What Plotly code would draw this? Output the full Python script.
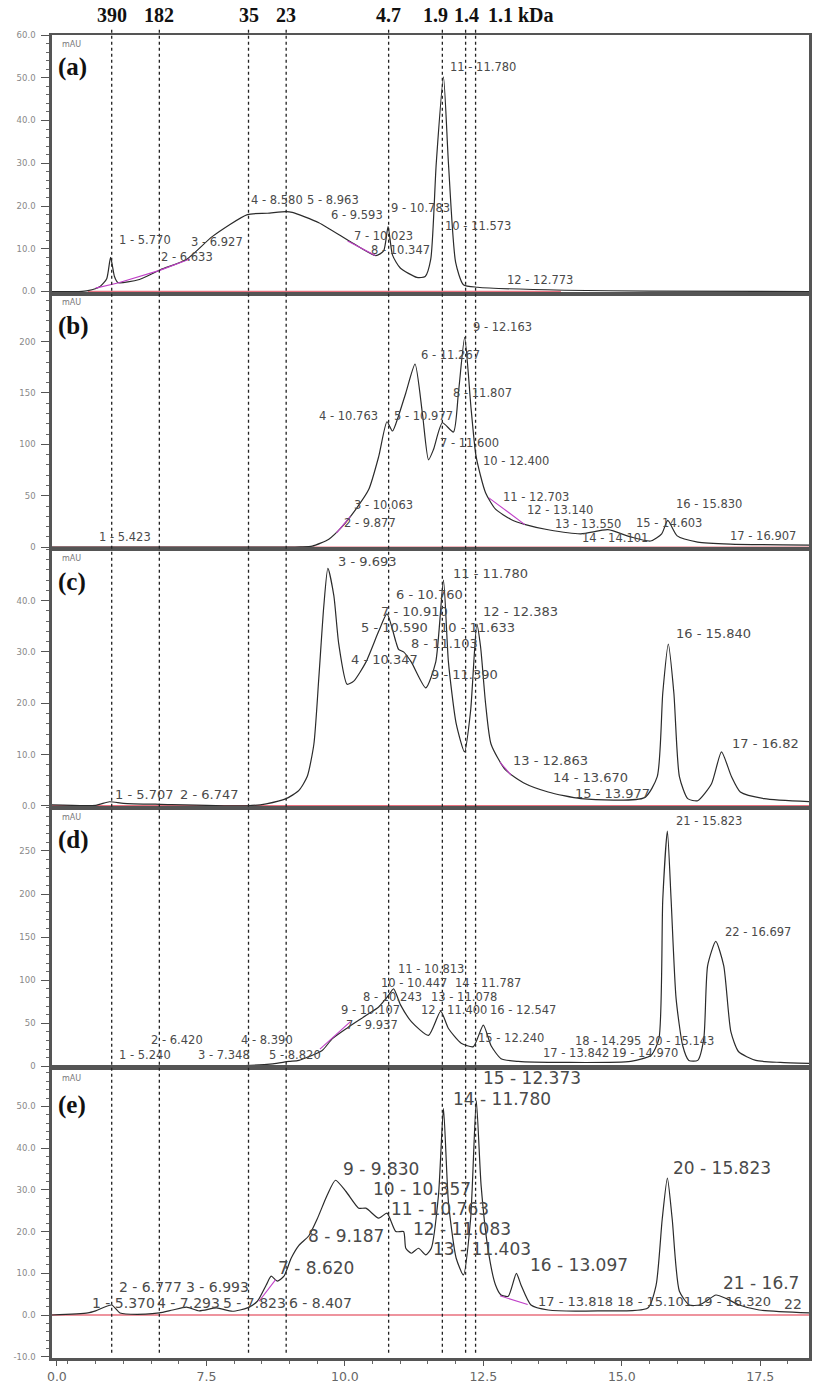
import plotly.graph_objects as go
from plotly.subplots import make_subplots

# ---------------- data (retention time in min, absorbance in mAU) ----------------
a_time = [4.71, 5.20, 5.36, 5.58, 5.70, 5.77, 5.84, 5.90, 6.29, 6.67, 7.14, 7.61, 8.24, 8.60, 8.94,
          9.05, 9.53, 10.13, 10.56, 10.70, 10.78, 10.86, 11.00, 11.30, 11.45, 11.55, 11.65, 11.78,
          11.87, 12.00, 12.14, 12.40, 13.97, 15.50, 18.38]
a_mau = [0.0, 0.0, 0.2, 1.2, 3.0, 8.0, 3.5, 2.1, 2.8, 5.1, 7.5, 12.9, 18.0, 18.3, 18.7,
         18.5, 16.1, 11.4, 8.4, 9.5, 15.2, 8.5, 5.5, 3.3, 3.5, 7.5, 30.0, 50.2,
         30.0, 6.8, 1.6, 1.0, 0.3, 0.1, 0.0]

b_time = [4.71, 8.99, 9.20, 9.41, 9.71, 9.95, 10.20, 10.43, 10.61, 10.76, 10.86, 10.97, 11.10,
          11.267, 11.40, 11.51, 11.60, 11.76, 11.96, 12.05, 12.163, 12.28, 12.37, 12.54, 12.72,
          13.00, 13.26, 13.67, 14.26, 14.75, 15.16, 15.52, 15.72, 15.83, 16.00, 16.37, 16.96, 18.40]
b_mau = [0, 0, 0.3, 1, 7.8, 20, 37, 56, 88, 122, 113, 128, 150,
         178, 130, 85, 95, 121, 112, 150, 204, 134, 88, 53, 37,
         27, 22, 17, 13, 17, 10, 6, 13, 26, 11, 5, 3, 2]

c_time = [4.71, 5.50, 5.75, 6.00, 6.67, 8.24, 8.58, 8.94, 9.17, 9.32, 9.44, 9.53, 9.62, 9.693,
          9.80, 9.89, 10.04, 10.16, 10.38, 10.61, 10.76, 10.92, 10.97, 11.06, 11.20, 11.46, 11.64,
          11.78, 11.87, 12.01, 12.16, 12.27, 12.383, 12.45, 12.54, 12.64, 12.90, 13.26, 13.67,
          14.26, 15.41, 15.64, 15.74, 15.84, 15.94, 16.04, 16.19, 16.37, 16.62, 16.80, 16.98,
          17.14, 17.57, 18.40]
c_mau = [0.2, 0.1, 0.8, 0.5, 0.3, 0.0, 0.4, 1.4, 3.0, 5.7, 12, 25, 39, 46.3,
         41, 31.5, 23.7, 24.3, 28, 34, 37.4, 32, 30.5, 30, 28, 23, 28,
         44, 28, 16, 10.5, 18.5, 35.4, 31, 20, 12, 7, 4.3, 2.7,
         1.4, 1.6, 5.7, 22, 31.5, 22, 5.7, 1.4, 1.0, 4.3, 10.5, 5.7,
         2.7, 1.4, 0.8]

d_time = [4.71, 5.50, 6.50, 7.30, 8.20, 8.70, 8.99, 9.17, 9.59, 9.77, 10.05, 10.38, 10.61, 10.76,
          10.88, 11.00, 11.20, 11.51, 11.73, 11.87, 12.10, 12.32, 12.50, 12.64, 12.82, 13.13,
          13.97, 15.16, 15.53, 15.67, 15.74, 15.823, 15.89, 15.98, 16.10, 16.21, 16.37, 16.48,
          16.55, 16.697, 16.84, 16.97, 17.11, 17.42, 17.86, 18.40]
d_mau = [0, 0.5, 0.5, 1.0, 1.0, 3, 5.8, 7, 18.5, 32, 45, 59, 69, 80,
         90, 72, 52, 36, 64, 44, 27, 23, 48, 24, 9, 5.8,
         4.6, 5.8, 13, 32, 194, 273, 194, 79, 24, 7, 7, 32,
         117, 145, 117, 40, 17, 7, 4.6, 3.5]

e_time = [4.71, 5.36, 5.50, 5.79, 5.94, 6.40, 6.65, 6.89, 7.14, 7.37, 7.68, 7.97, 8.24, 8.42,
          8.58, 8.67, 8.78, 8.90, 9.03, 9.17, 9.35, 9.50, 9.68, 9.83, 10.02, 10.25, 10.38, 10.61,
          10.76, 10.92, 11.06, 11.10, 11.20, 11.33, 11.46, 11.56, 11.69, 11.78, 11.87, 12.01,
          12.14, 12.27, 12.373, 12.46, 12.59, 12.72, 12.82, 12.95, 13.097, 13.18, 13.36, 13.67,
          14.57, 15.47, 15.62, 15.73, 15.823, 15.91, 16.04, 16.22, 16.40, 16.52, 16.70, 16.88,
          17.12, 17.48, 18.40]
e_mau = [0, 0.5, 1.0, 2.4, 0.5, 0.2, 0.5, 1.2, 1.9, 1.0, 1.7, 0.9, 1.7, 3.3,
         7.2, 9.3, 8.1, 9.3, 13.6, 16.7, 19, 23, 28.7, 32.3, 29.6, 25.6, 25.6, 23.2,
         24.4, 20, 20, 16, 14.8, 16, 14.4, 16, 28.7, 49.5, 27, 13.6,
         9.6, 23, 51.4, 31, 15.3, 7.2, 4.8, 4.5, 10, 7.2, 2.4, 1.2,
         1.0, 1.7, 7.2, 23, 32.8, 23, 5.7, 2.4, 2.4, 3.3, 4.8, 4.0,
         2.4, 1.2, 0.5]

# baselines (integration baseline, red) and tangent skims (magenta)
a_base_t, a_base_v = [5.36, 13.90], [0, 0]
b_base_t, b_base_v = [4.71, 18.40], [0, 0]
c_base_t, c_base_v = [4.71, 18.40], [0, 0]
d_base_t, d_base_v = [4.71, 18.40], [0, 0]
e_base_t, e_base_v = [4.71, 18.40], [0, 0]

a_skim_t = [5.50, 5.90, 6.67, 7.20, None, 10.05, 10.55]
a_skim_v = [0.8, 2.0, 5.0, 7.6, None, 11.8, 8.4]
b_skim_t = [9.85, 10.10, None, 12.60, 13.25]
b_skim_v = [14, 30, None, 48, 22]
c_skim_t = [12.80, 13.00]
c_skim_v = [8.5, 6.0]
d_skim_t = [9.55, 10.10]
d_skim_v = [20, 52]
e_skim_t = [8.45, 8.75, None, 12.80, 13.30]
e_skim_v = [3.3, 8.5, None, 4.6, 2.5]

# molecular weight markers (kDa) and their elution times
mw_labels = ["390", "182", "35", "23", "4.7", "1.9", "1.4", "1.1 kDa"]
mw_times = [5.79, 6.65, 8.26, 8.94, 10.79, 11.76, 12.18, 12.36]

# peak labels: text, time, mAU
a_lab = ["1 - 5.770", "2 - 6.633", "3 - 6.927", "4 - 8.580", "5 - 8.963", "6 - 9.593", "7 - 10.023",
         "8 - 10.347", "9 - 10.783", "10 - 11.573", "11 - 11.780", "12 - 12.773"]
a_lab_t = [5.88, 6.65, 7.19, 8.27, 9.28, 9.71, 10.13, 10.43, 10.79, 11.78, 11.87, 12.90]
a_lab_v = [12.1, 8.0, 11.5, 21.5, 21.5, 17.8, 12.9, 9.6, 19.6, 15.4, 52.6, 2.8]

b_lab = ["1 - 5.423", "2 - 9.877", "3 - 10.063", "4 - 10.763", "5 - 10.977", "6 - 11.267", "7 - 11.600",
         "8 - 11.807", "9 - 12.163", "10 - 12.400", "11 - 12.703", "12 - 13.140", "13 - 13.550",
         "14 - 14.101", "15 - 14.603", "16 - 15.830", "17 - 16.907"]
b_lab_t = [5.52, 9.95, 10.13, 9.50, 10.85, 11.33, 11.69, 11.91, 12.27, 12.46, 12.81, 13.26, 13.76,
           14.24, 15.22, 15.95, 16.91]
b_lab_v = [9.7, 23.3, 40.8, 128, 128, 187, 101, 150, 214, 83.5, 48.5, 36, 22.3, 8.7, 24, 42, 10.7]

c_lab = ["1 - 5.707", "2 - 6.747", "3 - 9.693", "4 - 10.347", "5 - 10.590", "6 - 10.760", "7 - 10.910",
         "8 - 11.103", "9 - 11.390", "10 - 11.633", "11 - 11.780", "12 - 12.383", "13 - 12.863",
         "14 - 13.670", "15 - 13.977", "16 - 15.840", "17 - 16.82"]
c_lab_t = [5.82, 6.98, 9.84, 10.07, 10.25, 10.88, 10.61, 11.15, 11.51, 11.69, 11.92, 12.45, 13.00,
           13.72, 14.12, 15.95, 16.96]
c_lab_v = [2.3, 2.3, 47.7, 28.6, 34.8, 41.1, 37.9, 31.7, 25.5, 34.8, 45.3, 37.9, 8.8, 5.6, 2.5, 33.5, 12.1]

d_lab = ["1 - 5.240", "2 - 6.420", "3 - 7.348", "4 - 8.390", "5 - 8.820", "7 - 9.937", "9 - 10.107",
         "8 - 10.243", "10 - 10.447", "11 - 10.813", "13 - 11.078", "14 - 11.787", "12 - 11.400",
         "16 - 12.547", "15 - 12.240", "17 - 13.842", "18 - 14.295", "19 - 14.970", "20 - 15.143",
         "21 - 15.823", "22 - 16.697"]
d_lab_t = [5.88, 6.47, 7.32, 8.09, 8.60, 9.98, 9.89, 10.29, 10.61, 10.92, 11.51, 11.96, 11.33,
           12.59, 12.36, 13.54, 14.12, 14.78, 15.43, 15.95, 16.82]
d_lab_v = [12.7, 31, 12.7, 31, 12.7, 48.6, 65, 81, 97, 113, 81, 97, 65, 65, 32.4, 15, 30, 15, 30, 285, 156]

e_lab = ["1 - 5.370", "2 - 6.777", "3 - 6.993", "4 - 7.293", "5 - 7.823", "6 - 8.407", "7 - 8.620",
         "8 - 9.187", "9 - 9.830", "10 - 10.357", "11 - 10.763", "12 - 11.083", "13 - 11.403",
         "14 - 11.780", "15 - 12.373", "16 - 13.097", "17 - 13.818", "18 - 15.101", "19 - 16.320",
         "20 - 15.823", "21 - 16.7", "22"]
e_lab_t = [5.40, 5.88, 7.10, 6.58, 7.77, 8.96, 8.76, 9.30, 9.93, 10.47, 10.79, 11.20, 11.56,
           11.92, 12.46, 13.30, 13.45, 14.88, 16.30, 15.88, 16.80, 17.90]
e_lab_v = [2.9, 6.7, 6.7, 2.9, 2.9, 2.9, 11.2, 18.9, 34.9, 30.1, 25.4, 20.6, 15.8,
           51.7, 56.7, 12.0, 3.3, 3.3, 3.3, 35.2, 7.7, 2.6]
e_lab_size = [14, 14, 14, 14, 14, 14, 17, 17, 17, 17, 17, 17, 17,
              17, 17, 17, 13, 13, 13, 17, 17, 14]

# y-axis ticks per panel
a_ticks = [0, 10, 20, 30, 40, 50, 60]
a_tick_text = ["0.0", "10.0", "20.0", "30.0", "40.0", "50.0", "60.0"]
b_ticks = [0, 50, 100, 150, 200]
b_tick_text = ["0", "50", "100", "150", "200"]
c_ticks = [0, 10, 20, 30, 40]
c_tick_text = ["0.0", "10.0", "20.0", "30.0", "40.0"]
d_ticks = [0, 50, 100, 150, 200, 250]
d_tick_text = ["0", "50", "100", "150", "200", "250"]
e_ticks = [-10, 0, 10, 20, 30, 40, 50]
e_tick_text = ["-10.0", "0.0", "10.0", "20.0", "30.0", "40.0", "50.0"]

x_ticks = [4.8, 7.5, 10.0, 12.5, 15.0, 17.5]
x_tick_text = ["0.0", "7.5", "10.0", "12.5", "15.0", "17.5"]

panel_names = ["(a)", "(b)", "(c)", "(d)", "(e)"]

# ---------------- figure ----------------
panels = [
    dict(t=a_time, v=a_mau, bt=a_base_t, bv=a_base_v, st=a_skim_t, sv=a_skim_v,
         lab=a_lab, lt=a_lab_t, lv=a_lab_v, ls=[11.5] * len(a_lab), rng=[-0.5, 60.0],
         dom=[0.8045, 1.0], tv=a_ticks, tt=a_tick_text, minor=2),
    dict(t=b_time, v=b_mau, bt=b_base_t, bv=b_base_v, st=b_skim_t, sv=b_skim_v,
         lab=b_lab, lt=b_lab_t, lv=b_lab_v, ls=[11.5] * len(b_lab), rng=[-2.0, 246.6],
         dom=[0.6113, 0.8045], tv=b_ticks, tt=b_tick_text, minor=10),
    dict(t=c_time, v=c_mau, bt=c_base_t, bv=c_base_v, st=c_skim_t, sv=c_skim_v,
         lab=c_lab, lt=c_lab_t, lv=c_lab_v, ls=[13] * len(c_lab), rng=[-0.4, 50.0],
         dom=[0.4158, 0.6113], tv=c_ticks, tt=c_tick_text, minor=2),
    dict(t=d_time, v=d_mau, bt=d_base_t, bv=d_base_v, st=d_skim_t, sv=d_skim_v,
         lab=d_lab, lt=d_lab_t, lv=d_lab_v, ls=[11.5] * len(d_lab), rng=[-2.3, 300.0],
         dom=[0.2189, 0.4158], tv=d_ticks, tt=d_tick_text, minor=10),
    dict(t=e_time, v=e_mau, bt=e_base_t, bv=e_base_v, st=e_skim_t, sv=e_skim_v,
         lab=e_lab, lt=e_lab_t, lv=e_lab_v, ls=e_lab_size, rng=[-10.3, 59.1],
         dom=[0.0, 0.2189], tv=e_ticks, tt=e_tick_text, minor=2),
]

fig = make_subplots(rows=5, cols=1, shared_xaxes=True, vertical_spacing=0)

X_RANGE = [4.712, 18.38]
annotations = []

for i, p in enumerate(panels):
    r = i + 1
    fig.add_trace(go.Scatter(x=p["bt"], y=p["bv"], mode="lines",
                             line=dict(color="#e8707e", width=1.6), showlegend=False,
                             hoverinfo="skip"), row=r, col=1)
    fig.add_trace(go.Scatter(x=p["t"], y=p["v"], mode="lines",
                             line=dict(color="#2b2b2b", width=1.2, shape="spline", smoothing=0.6),
                             showlegend=False), row=r, col=1)
    fig.add_trace(go.Scatter(x=p["st"], y=p["sv"], mode="lines",
                             line=dict(color="#c040c8", width=1.1), showlegend=False,
                             connectgaps=False, hoverinfo="skip"), row=r, col=1)

    ysuf = "" if r == 1 else str(r)
    xref = "x" + ysuf
    yref = "y" + ysuf
    for txt, tt, vv, fs in zip(p["lab"], p["lt"], p["lv"], p["ls"]):
        annotations.append(dict(text=txt, x=tt, y=vv, xref=xref, yref=yref, showarrow=False,
                                xanchor="left", yanchor="middle",
                                font=dict(family="DejaVu Sans", size=fs, color="#4a4a4a")))
    span = p["rng"][1] - p["rng"][0]
    annotations.append(dict(text="mAU", x=4.85, y=p["rng"][1] - 0.035 * span, xref=xref, yref=yref,
                            showarrow=False, xanchor="left", yanchor="middle",
                            font=dict(family="DejaVu Sans", size=8, color="#777")))
    annotations.append(dict(text="<b>" + panel_names[i] + "</b>", x=4.79,
                            y=p["rng"][1] - 0.125 * span, xref=xref, yref=yref,
                            showarrow=False, xanchor="left", yanchor="middle",
                            font=dict(family="Liberation Serif", size=25, color="#111")))

    fig.update_yaxes(row=r, col=1, range=p["rng"], domain=p["dom"], tickvals=p["tv"],
                     ticktext=p["tt"], showline=True, linewidth=2.5, linecolor="#555", mirror=True,
                     ticks="outside", ticklen=8, tickcolor="#555", showgrid=False, zeroline=False,
                     ticklabelstandoff=4,
                     tickfont=dict(family="DejaVu Sans", size=8.5, color="#888"),
                     minor=dict(dtick=p["minor"], ticklen=3, tickcolor="#666", ticks="outside",
                                showgrid=False))
    fig.update_xaxes(row=r, col=1, range=X_RANGE, showline=True, linewidth=1.6, linecolor="#555",
                     mirror=True, showgrid=False, zeroline=False,
                     ticks="outside" if r == 5 else "", showticklabels=(r == 5))

fig.update_xaxes(row=5, col=1, tickvals=x_ticks, ticktext=x_tick_text, ticklen=5, tickcolor="#555",
                 linewidth=2.5, tickfont=dict(family="DejaVu Sans", size=12.5, color="#666"),
                 minor=dict(tickmode="linear", tick0=0, dtick=0.5, ticklen=3, ticks="outside",
                            tickcolor="#666"))

# molecular weight marker lines and labels
shapes = []
for mt in mw_times:
    shapes.append(dict(type="line", xref="x", yref="paper", x0=mt, x1=mt, y0=0.004, y1=1.006,
                       line=dict(color="#222", width=1.3, dash="3px,3px"), layer="above"))
mw_shift = [0, 0, 0, 0, 0, -7, 1, 10]
for lbl, mt, sh in zip(mw_labels, mw_times, mw_shift):
    anchor = "left" if "kDa" in lbl else "center"
    annotations.append(dict(text="<b>" + lbl + "</b>", x=mt, y=1.0151, xref="x", yref="paper",
                            xshift=sh, showarrow=False, xanchor=anchor, yanchor="middle",
                            font=dict(family="Liberation Serif", size=20, color="#111")))

fig.update_layout(width=815, height=1387, margin=dict(l=52, r=3, t=35, b=27),
                  paper_bgcolor="white", plot_bgcolor="white", showlegend=False,
                  annotations=annotations, shapes=shapes)

fig.write_html("out.html")
